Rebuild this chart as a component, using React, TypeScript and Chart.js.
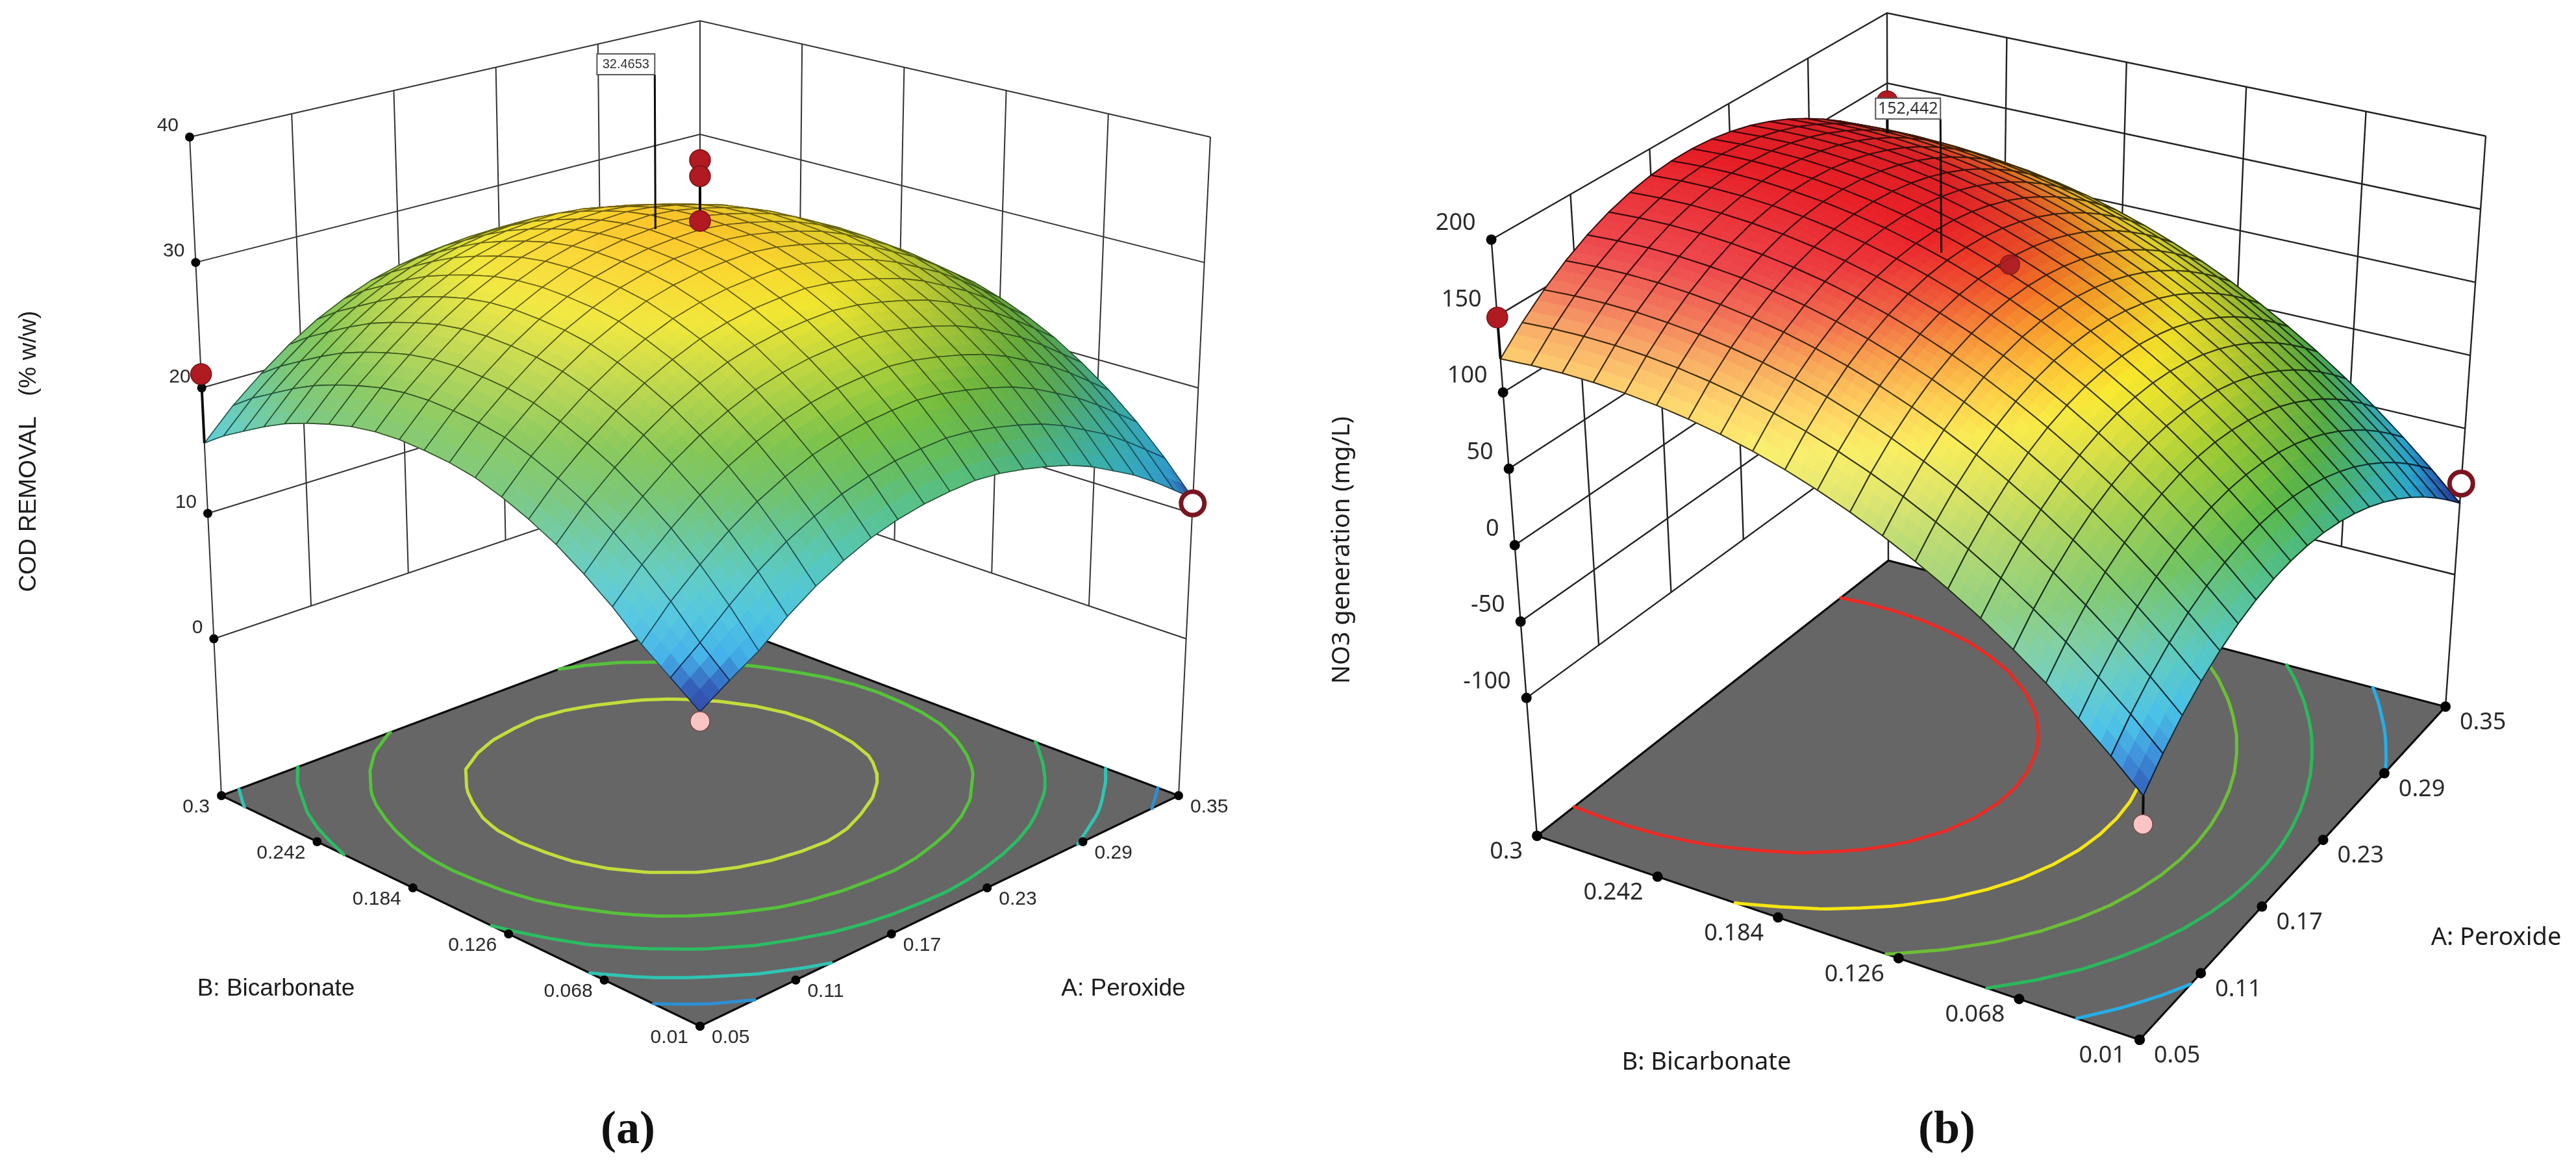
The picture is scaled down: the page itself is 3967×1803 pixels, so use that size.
import React, { useEffect, useRef } from "react";
import { Chart, registerables } from "chart.js";

Chart.register(...registerables);

// ---------- axis values ----------
const PEROXIDE_TICKS = [0.05, 0.11, 0.17, 0.23, 0.29, 0.35];
const PEROXIDE_LABELS = ["0.05", "0.11", "0.17", "0.23", "0.29", "0.35"];
const BICARB_TICKS = [0.01, 0.068, 0.126, 0.184, 0.242, 0.3];
const BICARB_LABELS = ["0.01", "0.068", "0.126", "0.184", "0.242", "0.3"];
const COD_TICKS = [0, 10, 20, 30, 40];
const NO3_TICKS = [-100, -50, 0, 50, 100, 150, 200];

// ---------- response tables: rows follow Bicarbonate (0.01 to 0.3), columns Peroxide (0.05 to 0.35) ----------
const COD_SURFACE = [
  [10.4,11.8,13.1,14.8,16.2,17.3,18.2,18.8,19.2,19.4,19.5,19.3,18.9,18.4,17.8,17.0,16.0,15.0,13.8,12.5,11.2],
  [12.0,13.7,15.6,17.3,18.7,19.8,20.7,21.3,21.7,21.9,22.0,21.8,21.4,20.9,20.3,19.5,18.5,17.5,16.3,15.0,13.7],
  [13.6,15.9,17.8,19.5,20.9,22.0,22.9,23.5,23.9,24.1,24.2,24.0,23.6,23.1,22.5,21.7,20.7,19.7,18.5,17.2,15.9],
  [15.5,17.8,19.7,21.4,22.8,23.9,24.8,25.4,25.8,26.0,26.1,25.9,25.5,25.0,24.4,23.6,22.6,21.6,20.4,19.1,17.8],
  [17.1,19.4,21.3,23.0,24.4,25.5,26.4,27.0,27.4,27.6,27.7,27.5,27.1,26.6,26.0,25.2,24.2,23.2,22.0,20.7,19.4],
  [18.5,20.8,22.7,24.4,25.8,26.9,27.8,28.4,28.8,29.0,29.1,28.9,28.5,28.0,27.4,26.6,25.6,24.6,23.4,22.1,20.8],
  [19.6,21.9,23.8,25.5,26.9,28.0,28.9,29.5,29.9,30.1,30.2,30.0,29.6,29.1,28.5,27.7,26.7,25.7,24.5,23.2,21.9],
  [20.5,22.8,24.7,26.4,27.8,28.9,29.8,30.4,30.8,31.0,31.1,30.9,30.5,30.0,29.4,28.6,27.6,26.6,25.4,24.1,22.8],
  [21.2,23.5,25.4,27.1,28.5,29.6,30.5,31.1,31.5,31.7,31.8,31.6,31.2,30.7,30.1,29.3,28.3,27.3,26.1,24.8,23.5],
  [21.6,23.9,25.8,27.5,28.9,30.0,30.9,31.5,31.9,32.1,32.2,32.0,31.6,31.1,30.5,29.7,28.7,27.7,26.5,25.2,23.9],
  [21.8,24.1,26.0,27.7,29.1,30.2,31.1,31.7,32.1,32.3,32.4,32.2,31.8,31.3,30.7,29.9,28.9,27.9,26.7,25.4,24.1],
  [21.9,24.2,26.1,27.8,29.2,30.3,31.2,31.8,32.2,32.4,32.5,32.3,31.9,31.4,30.8,30.0,29.0,28.0,26.8,25.5,24.2],
  [21.8,24.1,26.0,27.7,29.1,30.2,31.1,31.7,32.1,32.3,32.4,32.2,31.8,31.3,30.7,29.9,28.9,27.9,26.7,25.4,24.1],
  [21.5,23.8,25.7,27.4,28.8,29.9,30.8,31.4,31.8,32.0,32.1,31.9,31.5,31.0,30.4,29.6,28.6,27.6,26.4,25.1,23.8],
  [21.0,23.3,25.2,26.9,28.3,29.4,30.3,30.9,31.3,31.5,31.6,31.4,31.0,30.5,29.9,29.1,28.1,27.1,25.9,24.6,23.3],
  [20.4,22.7,24.6,26.3,27.7,28.8,29.7,30.3,30.7,30.9,31.0,30.8,30.4,29.9,29.3,28.5,27.5,26.5,25.3,24.0,22.7],
  [19.7,22.0,23.9,25.6,27.0,28.1,29.0,29.6,30.0,30.2,30.3,30.1,29.7,29.2,28.6,27.8,26.8,25.8,24.6,23.3,22.0],
  [18.8,21.1,23.0,24.7,26.1,27.2,28.1,28.7,29.1,29.3,29.4,29.2,28.8,28.3,27.7,26.9,25.9,24.9,23.7,22.4,21.1],
  [17.8,20.1,22.0,23.7,25.1,26.2,27.1,27.7,28.1,28.3,28.4,28.2,27.8,27.3,26.7,25.9,24.9,23.9,22.7,21.4,20.1],
  [16.8,19.1,21.0,22.7,24.1,25.2,26.1,26.7,27.1,27.3,27.4,27.2,26.8,26.3,25.7,24.9,23.9,22.9,21.7,20.4,19.1],
  [15.6,17.9,19.8,21.5,22.9,24.0,24.9,25.5,25.9,26.1,26.2,26.0,25.6,25.1,24.5,23.7,22.7,21.7,20.5,19.2,17.9],
];

const NO3_SURFACE = [
  [-43.2,-28.7,-16.3,-6.0,2.4,9.0,13.8,17.0,18.6,18.8,17.6,15.1,11.5,6.7,0.9,-5.9,-13.5,-21.9,-31.0,-40.8,-51.1],
  [-25.0,-10.5,1.9,12.2,20.6,27.2,32.0,35.2,36.8,37.0,35.8,33.3,29.7,24.9,19.1,12.3,4.7,-3.7,-12.8,-22.6,-32.9],
  [-8.0,6.5,18.9,29.2,37.6,44.2,49.0,52.2,53.8,54.0,52.8,50.3,46.7,41.9,36.1,29.3,21.7,13.3,4.2,-5.6,-15.9],
  [8.0,22.5,34.9,45.2,53.6,60.2,65.0,68.2,69.8,70.0,68.8,66.3,62.7,57.9,52.1,45.3,37.7,29.3,20.2,10.4,0.1],
  [22.8,37.3,49.7,60.0,68.4,75.0,79.8,83.0,84.6,84.8,83.6,81.1,77.5,72.7,66.9,60.1,52.5,44.1,35.0,25.2,14.9],
  [36.6,51.1,63.5,73.8,82.2,88.8,93.6,96.8,98.4,98.6,97.4,94.9,91.3,86.5,80.7,73.9,66.3,57.9,48.8,39.0,28.7],
  [49.2,63.7,76.1,86.4,94.8,101.4,106.2,109.4,111.0,111.2,110.0,107.5,103.9,99.1,93.3,86.5,78.9,70.5,61.4,51.6,41.3],
  [60.8,75.3,87.7,98.0,106.4,113.0,117.8,121.0,122.6,122.8,121.6,119.1,115.5,110.7,104.9,98.1,90.5,82.1,73.0,63.2,52.9],
  [71.4,85.9,98.3,108.6,117.0,123.6,128.4,131.6,133.2,133.4,132.2,129.7,126.1,121.3,115.5,108.7,101.1,92.7,83.6,73.8,63.5],
  [80.9,95.4,107.8,118.1,126.5,133.1,137.9,141.1,142.7,142.9,141.7,139.2,135.6,130.8,125.0,118.2,110.6,102.2,93.1,83.3,73.0],
  [89.4,103.9,116.3,126.6,135.0,141.6,146.4,149.6,151.2,151.4,150.2,147.7,144.1,139.3,133.5,126.7,119.1,110.7,101.6,91.8,81.5],
  [97.0,111.5,123.9,134.2,142.6,149.2,154.0,157.2,158.8,159.0,157.8,155.3,151.7,146.9,141.1,134.3,126.7,118.3,109.2,99.4,89.1],
  [103.5,118.0,130.4,140.7,149.1,155.7,160.5,163.7,165.3,165.5,164.3,161.8,158.2,153.4,147.6,140.8,133.2,124.8,115.7,105.9,95.6],
  [109.1,123.6,136.0,146.3,154.7,161.3,166.1,169.3,170.9,171.1,169.9,167.4,163.8,159.0,153.2,146.4,138.8,130.4,121.3,111.5,101.2],
  [113.6,128.1,140.5,150.8,159.2,165.8,170.6,173.8,175.4,175.6,174.4,171.9,168.3,163.5,157.7,150.9,143.3,134.9,125.8,116.0,105.7],
  [117.3,131.8,144.2,154.5,162.9,169.5,174.3,177.5,179.1,179.3,178.1,175.6,172.0,167.2,161.4,154.6,147.0,138.6,129.5,119.7,109.4],
  [120.0,134.5,146.9,157.2,165.6,172.2,177.0,180.2,181.8,182.0,180.8,178.3,174.7,169.9,164.1,157.3,149.7,141.3,132.2,122.4,112.1],
  [121.9,136.4,148.8,159.1,167.5,174.1,178.9,182.1,183.7,183.9,182.7,180.2,176.6,171.8,166.0,159.2,151.6,143.2,134.1,124.3,114.0],
  [122.8,137.3,149.7,160.0,168.4,175.0,179.8,183.0,184.6,184.8,183.6,181.1,177.5,172.7,166.9,160.1,152.5,144.1,135.0,125.2,114.9],
  [122.8,137.3,149.7,160.0,168.4,175.0,179.8,183.0,184.6,184.8,183.6,181.1,177.5,172.7,166.9,160.1,152.5,144.1,135.0,125.2,114.9],
  [122.0,136.5,148.9,159.2,167.6,174.2,179.0,182.2,183.8,184.0,182.8,180.3,176.7,171.9,166.1,159.3,151.7,143.3,134.2,124.4,114.1],
];

// ---------- contour levels ----------
const COD_LEVELS = [13, 17, 21, 25, 29];
const COD_LEVEL_COLORS = ["#2d8fd0", "#2fc4b4", "#2cbc62", "#55c23a", "#c4dc3c"];
const NO3_LEVELS = [-8, 35, 73, 110, 146];
const NO3_LEVEL_COLORS = ["#25aee8", "#2bb85c", "#6cbf36", "#f6e514", "#ea2a24"];

// ---------- design points [peroxide, bicarbonate, response] ----------
const COD_ABOVE = [[0.05, 0.3, 21.1], [0.2, 0.155, 38.0], [0.2, 0.155, 36.7], [0.2, 0.155, 33.1]];
const COD_BELOW = [[0.05, 0.01, 9.7]];
const COD_OPEN = [[0.35, 0.01, 10.8]];
const NO3_ABOVE = [[0.05, 0.3, 149], [0.35, 0.3, 137]];
const NO3_INSIDE = [[0.215, 0.166, 132]];
const NO3_BELOW = [[0.05, 0.01, -60.4]];
const NO3_OPEN = [[0.35, 0.01, -37.7]];

// ---------- colour ramps [response, colour] ----------
const COD_RAMP: [number, string][] = [
  [10, "#33409f"], [11.5, "#2f5cb8"], [13, "#38aee8"], [15, "#3cbfdc"], [17, "#42c2bc"],
  [19, "#50bf90"], [21, "#60bc60"], [23.5, "#74bf40"], [27, "#bcd438"], [29.5, "#f0e62e"],
  [31.5, "#fad62c"], [33, "#fdbd2a"],
];
const NO3_RAMP: [number, string][] = [
  [-50, "#243c9c"], [-43, "#2a4fb0"], [-30, "#2b7fd4"], [-14, "#2cb8e4"], [5, "#3ebfb8"], [20, "#4abb80"],
  [38, "#5cb948"], [66, "#98c934"], [88, "#d6dc2e"], [104, "#f8e82a"], [120, "#fdc02a"],
  [135, "#f68c26"], [150, "#ee4c27"], [165, "#ea2227"], [190, "#e51c24"],
];

type XY = [number, number];
type Panel = {
  xRange: XY;
  surface: number[][];
  zTicks: number[];
  levels: number[];
  levelColors: string[];
  ramp: [number, string][];
  floor: { F: XY; R: XY; L: XY; B: XY };
  top: { F: XY; R: XY; L: XY; B: XY };
  zFloor: number;
  zTop: number;
  warpU: number;
  warpV: number;
  whiten: number;
  darken: number;
  meshDark: number;
  meshWidth: number;
  wallColor: string;
  wallWidth: number;
  dotR: number;
  above: number[][];
  inside: number[][];
  below: number[][];
  open: number[][];
  note: { a: number; b: number; z: number; zEnd: number; text: string; w: number; h: number; font: string };
  font: string;
  tickPx: number;
  titlePx: number;
  zDx: number;
  zDy: number;
  floorDx: number;
  floorDy: number;
  yTitle: { text: string; x: number; y: number };
  aTitle: { text: string; x: number; y: number };
  bTitle: { text: string; x: number; y: number };
  caption: { text: string; x: number; y: number };
};

const PANELS: Panel[] = [
  {
    xRange: [0, 1984],
    surface: COD_SURFACE,
    zTicks: COD_TICKS,
    levels: COD_LEVELS,
    levelColors: COD_LEVEL_COLORS,
    ramp: COD_RAMP,
    floor: { F: [1078, 1580], R: [1815, 1225], L: [341, 1225], B: [1078, 949] },
    top: { F: [1078, 470], R: [1864, 211], L: [292, 211], B: [1078, 32] },
    zFloor: -12.5,
    zTop: 40,
    warpU: 0.21,
    warpV: 0.21,
    whiten: 0.1,
    darken: 0.12,
    meshDark: 0.42,
    meshWidth: 1.6,
    wallColor: "#333333",
    wallWidth: 2,
    dotR: 7,
    above: COD_ABOVE,
    inside: [],
    below: COD_BELOW,
    open: COD_OPEN,
    note: { a: 0.1865, b: 0.1675, z: 32.4653, zEnd: 44.9, text: "32.4653", w: 89, h: 32, font: '20px "Liberation Sans"' },
    font: '"Liberation Sans"',
    tickPx: 30,
    titlePx: 37,
    zDx: -17,
    zDy: -17,
    floorDx: 18,
    floorDy: 18,
    yTitle: { text: "COD REMOVAL   (% w/w)", x: 45, y: 695 },
    aTitle: { text: "A: Peroxide", x: 1730, y: 1523 },
    bTitle: { text: "B: Bicarbonate", x: 425, y: 1523 },
    caption: { text: "(a)", x: 967, y: 1741 },
  },
  {
    xRange: [1984, 3967],
    surface: NO3_SURFACE,
    zTicks: NO3_TICKS,
    levels: NO3_LEVELS,
    levelColors: NO3_LEVEL_COLORS,
    ramp: NO3_RAMP,
    floor: { F: [3295, 1601], R: [3766, 1088], L: [2367, 1287], B: [2908, 863] },
    top: { F: [3310, 604], R: [3828, 209.5], L: [2296.6, 369], B: [2906, 20] },
    zFloor: -190.3,
    zTop: 200,
    warpU: 0.22,
    warpV: 0.05,
    whiten: 0.27,
    darken: 0.14,
    meshDark: 0.25,
    meshWidth: 2,
    wallColor: "#222222",
    wallWidth: 2.4,
    dotR: 8,
    above: NO3_ABOVE,
    inside: NO3_INSIDE,
    below: NO3_BELOW,
    open: NO3_OPEN,
    note: { a: 0.184, b: 0.1805, z: 152.442, zEnd: 241.4, text: "152,442", w: 100, h: 32, font: '25px "Noto Sans"' },
    font: '"Noto Sans"',
    tickPx: 36,
    titlePx: 38,
    zDx: -24,
    zDy: -25,
    floorDx: 22,
    floorDy: 25,
    yTitle: { text: "NO3 generation (mg/L)", x: 2067, y: 847 },
    aTitle: { text: "A: Peroxide", x: 3844, y: 1444 },
    bTitle: { text: "B: Bicarbonate", x: 2628, y: 1636 },
    caption: { text: "(b)", x: 2998, y: 1741 },
  },
];

const A0 = PEROXIDE_TICKS[0];
const A1 = PEROXIDE_TICKS[PEROXIDE_TICKS.length - 1];
const B0 = BICARB_TICKS[0];
const B1 = BICARB_TICKS[BICARB_TICKS.length - 1];
const CELLS = 20;
const SUB = 3;

const warp = (s: number, c: number) => s + c * s * (1 - s);

function corner(c: { F: XY; R: XY; L: XY; B: XY }, u: number, v: number): XY {
  const f = (k: 0 | 1) =>
    c.F[k] * (1 - u) * (1 - v) + c.R[k] * u * (1 - v) + c.L[k] * (1 - u) * v + c.B[k] * u * v;
  return [f(0), f(1)];
}

// a 3-D box position to plot coordinates; box walls and ticks are not warped, the mesh is
function project(p: Panel, su: number, sv: number, z: number, warped: boolean) {
  const u = warped ? warp(su, p.warpU) : su;
  const v = warped ? warp(sv, p.warpV) : sv;
  const t = (z - p.zFloor) / (p.zTop - p.zFloor);
  const a = corner(p.floor, u, v);
  const b = corner(p.top, u, v);
  return { x: a[0] + (b[0] - a[0]) * t, y: a[1] + (b[1] - a[1]) * t };
}

const sA = (a: number) => (a - A0) / (A1 - A0);
const sB = (b: number) => (b - B0) / (B1 - B0);

function surfaceAt(p: Panel, su: number, sv: number) {
  const x = Math.min(su * CELLS, CELLS - 1e-6);
  const y = Math.min(sv * CELLS, CELLS - 1e-6);
  const i = Math.floor(x);
  const j = Math.floor(y);
  const fx = x - i;
  const fy = y - j;
  const g = p.surface;
  return (
    g[j][i] * (1 - fx) * (1 - fy) + g[j][i + 1] * fx * (1 - fy) + g[j + 1][i] * (1 - fx) * fy + g[j + 1][i + 1] * fx * fy
  );
}

const hex = (h: string) => [parseInt(h.slice(1, 3), 16), parseInt(h.slice(3, 5), 16), parseInt(h.slice(5, 7), 16)];

function rampColor(ramp: [number, string][], z: number) {
  if (z <= ramp[0][0]) return hex(ramp[0][1]);
  for (let k = 1; k < ramp.length; k++) {
    if (z <= ramp[k][0]) {
      const f = (z - ramp[k - 1][0]) / (ramp[k][0] - ramp[k - 1][0]);
      const a = hex(ramp[k - 1][1]);
      const b = hex(ramp[k][1]);
      return [0, 1, 2].map((c) => a[c] + (b[c] - a[c]) * f);
    }
  }
  return hex(ramp[ramp.length - 1][1]);
}

function shaded(p: Panel, z: number, w: number) {
  const c = rampColor(p.ramp, z);
  if (w > 0) {
    const low = p.ramp[0][0];
    const range = p.ramp[p.ramp.length - 1][0] - low;
    const fade = Math.max(0, Math.min(1, (z - low) / (0.3 * range)));
    const m = Math.min(0.36, w * p.whiten) * fade;
    return c.map((v) => v + (255 - v) * m);
  }
  const m = Math.min(0.38, -w * p.darken);
  return c.map((v) => v * (1 - m));
}

const css = (c: number[], k = 1) => `rgb(${c.map((v) => Math.round(v * k)).join(",")})`;

function slope(p: Panel, i: number, j: number) {
  const g = p.surface;
  const a = g[j][Math.max(0, i - 1)];
  const b = g[j][Math.min(CELLS, i + 1)];
  const span = (Math.min(CELLS, i + 1) - Math.max(0, i - 1)) / CELLS;
  const range = p.ramp[p.ramp.length - 1][0] - p.ramp[0][0];
  return (b - a) / span / range;
}

function contourData(p: Panel, level: number) {
  const out: { x: number; y: number }[] = [];
  const g = p.surface;
  for (let j = 0; j < CELLS; j++) {
    for (let i = 0; i < CELLS; i++) {
      const c = [
        [i, j, g[j][i]],
        [i + 1, j, g[j][i + 1]],
        [i + 1, j + 1, g[j + 1][i + 1]],
        [i, j + 1, g[j + 1][i]],
      ];
      const hits: number[][] = [];
      for (let k = 0; k < 4; k++) {
        const a = c[k];
        const b = c[(k + 1) % 4];
        if ((a[2] < level) !== (b[2] < level)) {
          const f = (level - a[2]) / (b[2] - a[2]);
          hits.push([a[0] + (b[0] - a[0]) * f, a[1] + (b[1] - a[1]) * f]);
        }
      }
      for (let k = 0; k + 1 < hits.length; k += 2) {
        out.push(project(p, hits[k][0] / CELLS, hits[k][1] / CELLS, p.zFloor, true));
        out.push(project(p, hits[k + 1][0] / CELLS, hits[k + 1][1] / CELLS, p.zFloor, true));
        out.push({ x: NaN, y: NaN });
      }
    }
  }
  return out;
}

function buildDatasets(p: Panel) {
  const list: any[] = [];
  const line = (data: any[], color: string, width: number, extra: any = {}) =>
    list.push({
      type: "scatter",
      data,
      showLine: true,
      borderColor: color,
      borderWidth: width,
      pointRadius: 0,
      tension: 0,
      fill: false,
      ...extra,
    });
  const zLow = p.zTicks[0];
  const zHigh = p.zTicks[p.zTicks.length - 1];

  // walls
  for (const z of p.zTicks) {
    line(
      [project(p, 0, 1, z, false), project(p, 1, 1, z, false), project(p, 1, 0, z, false)],
      p.wallColor,
      p.wallWidth
    );
  }
  PEROXIDE_TICKS.forEach((a, k) => {
    const end = k === 0 || k === PEROXIDE_TICKS.length - 1 ? p.zFloor : zLow;
    line([project(p, sA(a), 1, zHigh, false), project(p, sA(a), 1, end, false)], p.wallColor, p.wallWidth);
  });
  BICARB_TICKS.forEach((b, k) => {
    if (k === BICARB_TICKS.length - 1) return;
    const end = k === 0 ? p.zFloor : zLow;
    line([project(p, 1, sB(b), zHigh, false), project(p, 1, sB(b), end, false)], p.wallColor, p.wallWidth);
  });

  // floor
  const f = p.zFloor;
  line(
    [project(p, 0, 0, f, false), project(p, 1, 0, f, false), project(p, 1, 1, f, false), project(p, 0, 1, f, false), project(p, 0, 0, f, false)],
    "#0c0c0c",
    3.2,
    { fill: "shape", backgroundColor: "#666666" }
  );
  p.levels.forEach((lv, k) => {
    line(contourData(p, lv), p.levelColors[k], 5, { borderCapStyle: "round", borderJoinStyle: "round", spanGaps: false });
  });

  // axis dots
  const dots = [
    ...p.zTicks.map((z) => project(p, 0, 1, z, false)),
    ...PEROXIDE_TICKS.map((a) => project(p, sA(a), 0, f, false)),
    ...BICARB_TICKS.map((b) => project(p, 0, sB(b), f, false)),
  ];
  list.push({ type: "scatter", data: dots, pointRadius: p.dotR, pointBackgroundColor: "#050505", pointBorderWidth: 0, showLine: false });

  // surface carrier: the mesh nodes of the table, painted by the plugin below
  const nodes: { x: number; y: number }[] = [];
  p.surface.forEach((row, j) =>
    row.forEach((z, i) => nodes.push(project(p, i / CELLS, j / CELLS, z, true)))
  );
  list.push({ type: "scatter", data: nodes, pointRadius: 0, showLine: false, isSurface: true });

  // stems and design points
  const pointAt = (d: number[]) => project(p, sA(d[0]), sB(d[1]), d[2], true);
  const stem = (d: number[]) => {
    const z = surfaceAt(p, sA(d[0]), sB(d[1]));
    line([pointAt(d), project(p, sA(d[0]), sB(d[1]), z, true)], "#0a0a0a", 4);
  };
  [...p.above, ...p.below].forEach(stem);
  line(
    [project(p, sA(p.note.a), sB(p.note.b), p.note.z, true), project(p, sA(p.note.a), sB(p.note.b), p.note.zEnd, true)],
    "#0a0a0a",
    3
  );
  list.push({
    type: "scatter",
    data: p.above.map(pointAt),
    pointRadius: 16,
    pointBackgroundColor: "#b01a20",
    pointBorderColor: "#7a1216",
    pointBorderWidth: 1.5,
  });
  if (p.inside.length)
    list.push({
      type: "scatter",
      data: p.inside.map(pointAt),
      pointRadius: 15,
      pointBackgroundColor: "rgba(170,28,36,0.92)",
      pointBorderColor: "#8a1a1a",
      pointBorderWidth: 1.5,
    });
  list.push({
    type: "scatter",
    data: p.below.map(pointAt),
    pointRadius: 15,
    pointBackgroundColor: "#f8c4c4",
    pointBorderColor: "#7a4a4a",
    pointBorderWidth: 1.5,
  });
  list.push({
    type: "scatter",
    data: p.open.map(pointAt),
    pointRadius: 18,
    pointBackgroundColor: "#ffffff",
    pointBorderColor: "#7a1420",
    pointBorderWidth: 7,
  });

  // Chart.js paints a higher "order" first
  list.forEach((d, k) => (d.order = list.length - k));
  return list;
}

function paintSurface(chart: any, p: Panel) {
  const { ctx, scales } = chart;
  const px = (x: number) => scales.x.getPixelForValue(x);
  const py = (y: number) => scales.y.getPixelForValue(y);
  const n = CELLS * SUB;
  const grid: number[][][] = [];
  const zs: number[][] = [];
  const ws: number[][] = [];
  for (let j = 0; j <= n; j++) {
    grid.push([]);
    zs.push([]);
    ws.push([]);
    for (let i = 0; i <= n; i++) {
      const su = i / n;
      const sv = j / n;
      const z = surfaceAt(p, su, sv);
      const q = project(p, su, sv, z, true);
      grid[j].push([px(q.x), py(q.y)]);
      zs[j].push(z);
      const fi = Math.min(CELLS - 1, Math.floor(i / SUB));
      const fj = Math.min(CELLS - 1, Math.floor(j / SUB));
      const ax = i / SUB - fi;
      const ay = j / SUB - fj;
      ws[j].push(
        slope(p, fi, fj) * (1 - ax) * (1 - ay) +
          slope(p, fi + 1, fj) * ax * (1 - ay) +
          slope(p, fi, fj + 1) * (1 - ax) * ay +
          slope(p, fi + 1, fj + 1) * ax * ay
      );
    }
  }
  ctx.save();
  ctx.lineJoin = "round";
  ctx.lineCap = "round";
  for (let cj = CELLS - 1; cj >= 0; cj--) {
    for (let ci = CELLS - 1; ci >= 0; ci--) {
      for (let b = SUB - 1; b >= 0; b--) {
        for (let a = SUB - 1; a >= 0; a--) {
          const i = ci * SUB + a;
          const j = cj * SUB + b;
          const z = (zs[j][i] + zs[j][i + 1] + zs[j + 1][i] + zs[j + 1][i + 1]) / 4;
          const w = (ws[j][i] + ws[j][i + 1] + ws[j + 1][i] + ws[j + 1][i + 1]) / 4;
          const col = css(shaded(p, z, w));
          ctx.beginPath();
          ctx.moveTo(grid[j][i][0], grid[j][i][1]);
          ctx.lineTo(grid[j][i + 1][0], grid[j][i + 1][1]);
          ctx.lineTo(grid[j + 1][i + 1][0], grid[j + 1][i + 1][1]);
          ctx.lineTo(grid[j + 1][i][0], grid[j + 1][i][1]);
          ctx.closePath();
          ctx.fillStyle = col;
          ctx.strokeStyle = col;
          ctx.lineWidth = 0.8;
          ctx.fill();
          ctx.stroke();
        }
      }
      // cell outline, in a darker tone of the cell's own colour
      const i0 = ci * SUB;
      const j0 = cj * SUB;
      const c = rampColor(p.ramp, zs[j0 + 1][i0 + 1]);
      ctx.strokeStyle = css(c, p.meshDark);
      ctx.lineWidth = p.meshWidth;
      ctx.beginPath();
      ctx.moveTo(grid[j0][i0][0], grid[j0][i0][1]);
      for (let k = 1; k <= SUB; k++) ctx.lineTo(grid[j0][i0 + k][0], grid[j0][i0 + k][1]);
      for (let k = 1; k <= SUB; k++) ctx.lineTo(grid[j0 + k][i0 + SUB][0], grid[j0 + k][i0 + SUB][1]);
      for (let k = 1; k <= SUB; k++) ctx.lineTo(grid[j0 + SUB][i0 + SUB - k][0], grid[j0 + SUB][i0 + SUB - k][1]);
      for (let k = 1; k <= SUB; k++) ctx.lineTo(grid[j0 + SUB - k][i0][0], grid[j0 + SUB - k][i0][1]);
      ctx.stroke();
    }
  }
  ctx.restore();
}

function paintText(chart: any, p: Panel) {
  const { ctx, scales } = chart;
  const px = (x: number) => scales.x.getPixelForValue(x);
  const py = (y: number) => scales.y.getPixelForValue(y);
  const text = (s: string, x: number, y: number, font: string, align: CanvasTextAlign, color = "#2a2a2a") => {
    ctx.font = font;
    ctx.textAlign = align;
    ctx.textBaseline = "middle";
    ctx.fillStyle = color;
    ctx.fillText(s, px(x), py(y));
  };
  ctx.save();
  const tick = `${p.tickPx}px ${p.font}`;
  const title = `${p.titlePx}px ${p.font}`;
  p.zTicks.forEach((z) => {
    const q = project(p, 0, 1, z, false);
    text(String(z), q.x + p.zDx, q.y + p.zDy, tick, "right");
  });
  PEROXIDE_TICKS.forEach((a, k) => {
    const q = project(p, sA(a), 0, p.zFloor, false);
    text(PEROXIDE_LABELS[k], q.x + p.floorDx, q.y + p.floorDy, tick, "left");
  });
  BICARB_TICKS.forEach((b, k) => {
    const q = project(p, 0, sB(b), p.zFloor, false);
    text(BICARB_LABELS[k], q.x - p.floorDx, q.y + p.floorDy, tick, "right");
  });
  text(p.aTitle.text, p.aTitle.x, p.aTitle.y, title, "center", "#1c1c1c");
  text(p.bTitle.text, p.bTitle.x, p.bTitle.y, title, "center", "#1c1c1c");
  text(p.caption.text, p.caption.x, p.caption.y, 'bold 72px "Liberation Serif"', "center", "#111111");

  ctx.save();
  ctx.translate(px(p.yTitle.x), py(p.yTitle.y));
  ctx.rotate(-Math.PI / 2);
  ctx.font = title;
  ctx.textAlign = "center";
  ctx.textBaseline = "middle";
  ctx.fillStyle = "#1c1c1c";
  ctx.fillText(p.yTitle.text, 0, 0);
  ctx.restore();

  // value flag at the head of the annotation stem
  const head = project(p, sA(p.note.a), sB(p.note.b), p.note.zEnd, true);
  const bx = px(head.x) - p.note.w;
  const by = py(head.y) - p.note.h;
  ctx.fillStyle = "#ffffff";
  ctx.strokeStyle = "#555555";
  ctx.lineWidth = 2;
  ctx.fillRect(bx, by, p.note.w, p.note.h);
  ctx.strokeRect(bx, by, p.note.w, p.note.h);
  ctx.font = p.note.font;
  ctx.textAlign = "center";
  ctx.textBaseline = "middle";
  ctx.fillStyle = "#333333";
  ctx.fillText(p.note.text, bx + p.note.w / 2, by + p.note.h / 2 + 1);
  ctx.restore();
}

function SurfacePanel({ panel }: { panel: Panel }) {
  const ref = useRef<HTMLCanvasElement | null>(null);
  useEffect(() => {
    const chart = new Chart(ref.current as HTMLCanvasElement, {
      type: "scatter",
      data: { datasets: buildDatasets(panel) },
      options: {
        animation: false,
        responsive: false,
        events: [],
        layout: { padding: 0, autoPadding: false },
        plugins: { legend: { display: false }, tooltip: { enabled: false } },
        scales: {
          x: { type: "linear", display: false, min: panel.xRange[0], max: panel.xRange[1] },
          y: { type: "linear", display: false, min: 0, max: 1803, reverse: true },
        },
      },
      plugins: [
        {
          id: "surfacePaint",
          afterDatasetDraw(c: any, args: any) {
            if (c.data.datasets[args.index].isSurface) paintSurface(c, panel);
          },
          afterDraw(c: any) {
            paintText(c, panel);
          },
        },
      ],
    } as any);
    return () => chart.destroy();
  }, [panel]);
  return (
    <canvas
      ref={ref}
      width={panel.xRange[1] - panel.xRange[0]}
      height={1803}
      style={{ position: "absolute", left: panel.xRange[0], top: 0 }}
    />
  );
}

export default function App() {
  return (
    <div style={{ position: "absolute", left: 0, top: 0, width: 3967, height: 1803, background: "#ffffff", overflow: "hidden" }}>
      {PANELS.map((p) => (
        <SurfacePanel key={p.caption.text} panel={p} />
      ))}
    </div>
  );
}
